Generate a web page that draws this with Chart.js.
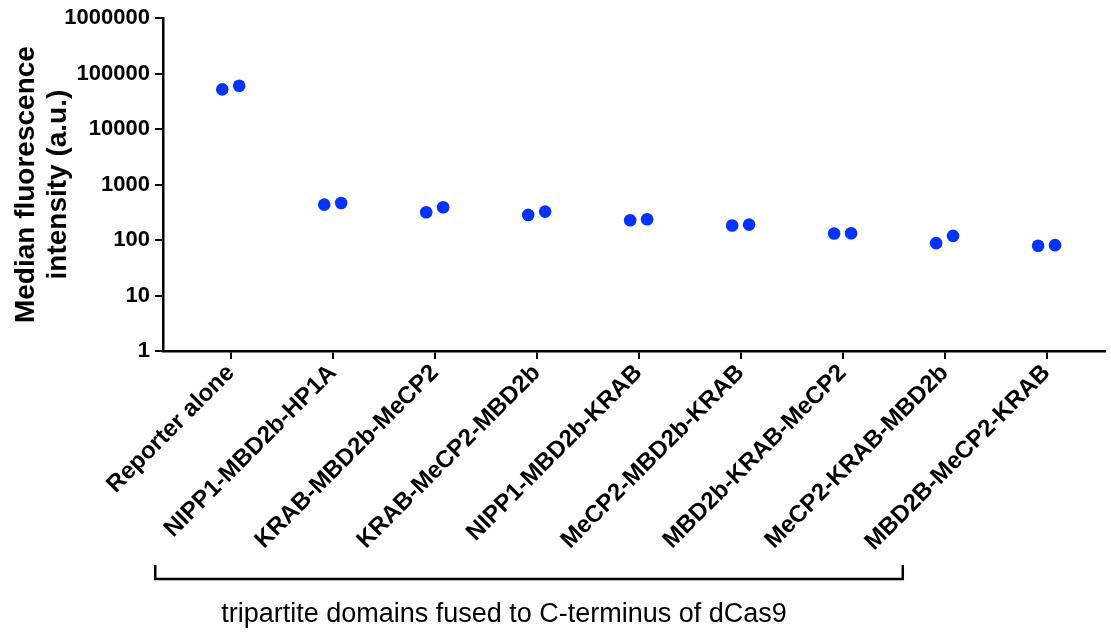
<!DOCTYPE html>
<html>
<head>
<meta charset="utf-8">
<script src="https://cdn.jsdelivr.net/npm/chart.js@4.4.1/dist/chart.umd.min.js"></script>
<style>
  html, body { margin: 0; padding: 0; background: #ffffff; }
  #wrap { width: 1111px; height: 632px; position: relative; }
</style>
</head>
<body>
<div id="wrap"><canvas id="c" width="1111" height="632"></canvas></div>
<script>
// Constructs tested (reporter plus tripartite repressor fusions)
const categories = [
  'Reporter alone',
  'NIPP1-MBD2b-HP1A',
  'KRAB-MBD2b-MeCP2',
  'KRAB-MeCP2-MBD2b',
  'NIPP1-MBD2b-KRAB',
  'MeCP2-MBD2b-KRAB',
  'MBD2b-KRAB-MeCP2',
  'MeCP2-KRAB-MBD2b',
  'MBD2B-MeCP2-KRAB'
];

// Median fluorescence (a.u.), two replicates per construct
const replicate1 = [52000, 436, 317, 284, 228, 183, 131, 88, 79];
const replicate2 = [60400, 467, 390, 326, 237, 190, 133, 119, 81];

// Decade ticks on the log axis
const yTicks = [1, 10, 100, 1000, 10000, 100000, 1000000];

const yTitle = ['Median fluorescence', 'intensity (a.u.)'];
const groupLabel = 'tripartite domains fused to C-terminus of dCas9';

const FONT = "'Liberation Sans', Arial, Helvetica, sans-serif";
const DOT_SHIFT = 0.083; // horizontal spread of the two replicates around each category

const points = [];
categories.forEach((c, i) => {
  points.push({ x: i + 1 - DOT_SHIFT, y: replicate1[i] });
  points.push({ x: i + 1 + DOT_SHIFT, y: replicate2[i] });
});

// Bracket under the fusion constructs with its caption
const bracketPlugin = {
  id: 'groupBracket',
  afterDraw(chart) {
    const { ctx } = chart;
    const xs = chart.scales.x;
    const left = xs.getPixelForValue(0.26);
    const right = xs.getPixelForValue(7.59);
    const top = 565, bottom = 579;
    ctx.save();
    ctx.strokeStyle = '#000';
    ctx.lineWidth = 2.5;
    ctx.lineJoin = 'miter';
    ctx.beginPath();
    ctx.moveTo(left, top);
    ctx.lineTo(left, bottom);
    ctx.lineTo(right, bottom);
    ctx.lineTo(right, top);
    ctx.stroke();
    ctx.fillStyle = '#000';
    ctx.font = '27px ' + FONT;
    ctx.textAlign = 'center';
    ctx.textBaseline = 'alphabetic';
    ctx.fillText(groupLabel, (left + right) / 2 - 25, 622);
    ctx.restore();
  }
};

new Chart(document.getElementById('c'), {
  type: 'scatter',
  data: {
    datasets: [{
      data: points,
      pointRadius: 6.3,
      pointHoverRadius: 6.3,
      pointBackgroundColor: '#0433ff',
      pointBorderWidth: 0
    }]
  },
  options: {
    responsive: false,
    animation: false,
    devicePixelRatio: 1,
    layout: { padding: { top: 17, right: 3, left: 0, bottom: 0 } },
    plugins: { legend: { display: false }, tooltip: { enabled: false } },
    scales: {
      x: {
        type: 'linear',
        min: 0.336,
        max: 9.57,
        afterBuildTicks: (axis) => { axis.ticks = categories.map((_, i) => ({ value: i + 1 })); },
        afterFit: (scale) => { scale.height = 281; },
        ticks: {
          autoSkip: false,
          minRotation: 45,
          maxRotation: 45,
          padding: 0,
          color: '#000',
          font: { family: FONT, weight: 'bold', size: 24 },
          callback: (v, i) => categories[i]
        },
        grid: { drawOnChartArea: false, drawTicks: true, tickLength: 8, color: '#000', lineWidth: 2 },
        border: { color: '#000', width: 2.5 }
      },
      y: {
        type: 'logarithmic',
        min: 1,
        max: 1000000,
        afterBuildTicks: (axis) => { axis.ticks = yTicks.map(v => ({ value: v })); },
        afterFit: (scale) => { scale.width = 163; },
        ticks: {
          padding: 5,
          color: '#000',
          font: { family: FONT, weight: 'bold', size: 22 },
          callback: (v) => String(v)
        },
        title: {
          display: true,
          text: yTitle,
          color: '#000',
          font: { family: FONT, weight: 'bold', size: 28, lineHeight: 1.15 },
          padding: { top: 10, bottom: 0 }
        },
        grid: { drawOnChartArea: false, drawTicks: true, tickLength: 8, color: '#000', lineWidth: 2 },
        border: { color: '#000', width: 2.5 }
      }
    }
  },
  plugins: [bracketPlugin]
});
</script>
</body>
</html>
